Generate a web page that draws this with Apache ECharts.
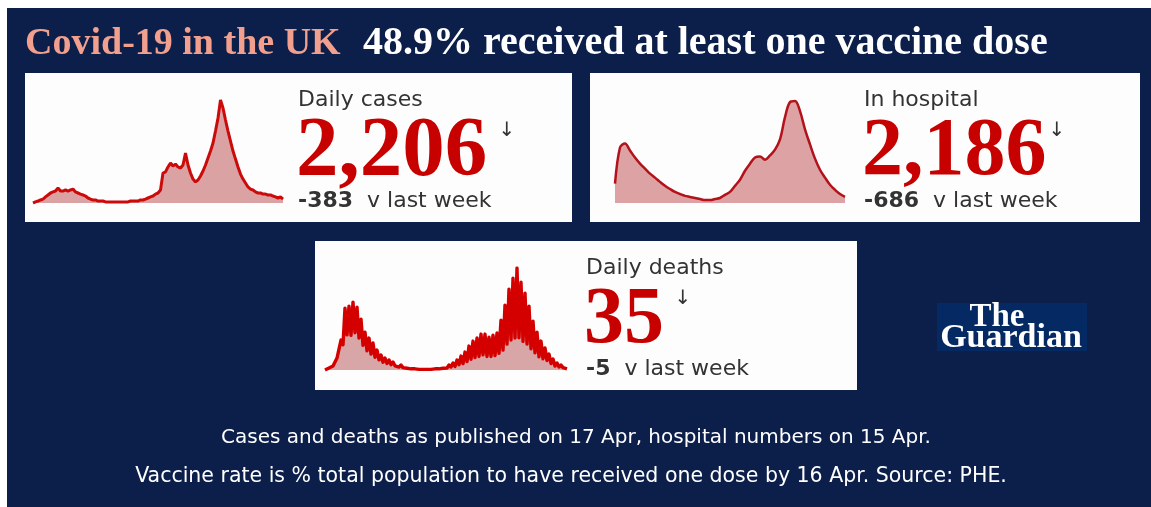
<!DOCTYPE html>
<html><head><meta charset="utf-8">
<script src="https://cdn.jsdelivr.net/npm/echarts@6/dist/echarts.min.js"></script>
<style>html,body{margin:0;padding:0;background:#fff}#c{width:1151px;height:507px}</style>
</head><body><div id="c"></div>
<script>
// ---- data ----
const casesValues = [
  0,700,1300,2000,2600,4000,5300,6600,7300,7900,
  9900,7900,7900,8600,7900,8600,9200,7300,6600,5900,
  5300,4600,3300,2600,2000,2000,1300,1300,1300,700,
  700,700,700,700,700,700,700,700,700,1300,
  1300,1300,1300,2000,2000,2600,3300,4000,4600,5900,
  6600,8600,19800,20500,23800,26400,24400,25700,23800,23100,
  25100,33000,25100,19800,15800,13900,15200,17800,21100,25100,
  29700,34300,39600,47500,56100,68000,62700,54800,47500,40900,
  34300,29000,23800,19100,15800,13200,10600,9200,8600,7300,
  6600,6600,5900,5900,5300,5300,4600,4000,3300,4000,2600
];
const hospitalValues = [
  7300,21000,22500,19900,17200,14900,13000,11100,9600,8000,
  6500,5300,4200,3400,2700,2300,1900,1500,1100,1100,
  1500,1900,3100,4200,6500,8800,12200,14900,17200,17600,
  16400,18000,20200,24100,32500,38200,38600,34800,27900,22200,
  16800,12600,9600,6900,5000,3400,2300
];
const deathsValues = [
  0,12,36,32,71,53,214,186,534,450,
  1104,627,1139,617,1210,666,1121,568,908,441,
  676,343,570,284,481,225,356,182,267,139,
  214,117,178,96,142,75,107,53,89,43,
  71,32,53,21,36,21,36,11,18,11,
  18,11,18,11,18,21,36,21,36,32,
  53,36,89,53,125,64,178,96,249,114,
  320,150,427,192,516,221,570,242,641,271,
  641,242,587,242,623,256,659,297,890,355,
  1157,461,1442,536,1638,570,1820,575,1566,511,
  1371,463,1139,379,872,306,676,235,516,200,
  392,169,285,116,196,71,125,53,89,43,
  53,21
];
const panelTitles = ['Daily cases', 'In hospital', 'Daily deaths'];
const headlineValues = ['2,206', '2,186', '35'];
const weekChanges = ['-383', '-686', '-5'];
const weekText = 'v last week';
const titleLeft = 'Covid-19 in the UK';
const titleRight = '48.9% received at least one vaccine dose';
const footnotes = [
  'Cases and deaths as published on 17 Apr, hospital numbers on 15 Apr.',
  'Vaccine rate is % total population to have received one dose by 16 Apr. Source: PHE.'
];

function idxLabels(n) { const a = []; for (let i = 0; i < n; i++) a.push(String(i)); return a; }
const casesCats = idxLabels(casesValues.length);
const hospitalCats = idxLabels(hospitalValues.length);
const deathsCats = idxLabels(deathsValues.length);

const chart = echarts.init(document.getElementById('c'), null, {renderer: 'canvas'});

const SERIF = '"Liberation Serif", "DejaVu Serif", serif';
const SANS = '"DejaVu Sans", "Noto Sans", sans-serif';
const RED = '#c70000';
const DARK = '#333333';

function xAx(i, cats) {
  return {gridIndex: i, type: 'category', data: cats, boundaryGap: false, show: false};
}
function yAx(i, max) {
  return {gridIndex: i, type: 'value', min: 0, max: max, show: false, splitLine: {show: false}};
}

const panels = [
  {x: 25, y: 73, w: 547, h: 149, tx: 298, ty: 73, arrowX: 507},
  {x: 590, y: 73, w: 550, h: 149, tx: 864, ty: 73, arrowX: 1057},
  {x: 315, y: 241, w: 542, h: 149, tx: 586, ty: 241, arrowX: 683}
];
const numSizes = [85, 82, 80];

const elements = [];
elements.push({type: 'rect', shape: {x: 7, y: 8, width: 1144, height: 499}, style: {fill: '#0c1f4b'}, z: -10});
panels.forEach((p, i) => {
  elements.push({type: 'rect', shape: {x: p.x, y: p.y, width: p.w, height: p.h}, style: {fill: '#fdfdfd'}, z: -5});
  elements.push({type: 'text', x: p.tx, y: p.ty + 27, z: 10,
    style: {text: panelTitles[i], font: '22px ' + SANS, fill: DARK, verticalAlign: 'middle', align: 'left'}});
  elements.push({type: 'text', x: p.tx - 2, y: p.ty + 80, z: 10,
    style: {text: headlineValues[i], font: 'bold ' + numSizes[i] + 'px ' + SERIF, fill: RED, verticalAlign: 'middle', align: 'left'}});
  elements.push({type: 'text', x: p.arrowX, y: p.ty + 58, z: 10,
    style: {text: '\u2193', font: '20px "DejaVu Sans", sans-serif', fill: DARK, verticalAlign: 'middle', align: 'center'}});
  elements.push({type: 'text', x: p.tx, y: p.ty + 128, z: 10,
    style: {text: '{b|' + weekChanges[i] + '}  ' + weekText, font: '22px ' + SANS, fill: DARK, verticalAlign: 'middle', align: 'left',
      rich: {b: {font: 'bold 22px ' + SANS, fill: DARK}}}});
});
// title
elements.push({type: 'text', x: 25, y: 44, z: 10,
  style: {text: titleLeft, font: 'bold 38px ' + SERIF, fill: '#f2a08d', verticalAlign: 'middle', align: 'left'}});
elements.push({type: 'text', x: 363, y: 44, z: 10,
  style: {text: titleRight, font: 'bold 40px ' + SERIF, fill: '#ffffff', verticalAlign: 'middle', align: 'left'}});
// footnotes
elements.push({type: 'text', x: 576, y: 438, z: 10,
  style: {text: footnotes[0], font: '20px ' + SANS, fill: '#ffffff', verticalAlign: 'middle', align: 'center'}});
elements.push({type: 'text', x: 571, y: 477, z: 10,
  style: {text: footnotes[1], font: '20.5px ' + SANS, fill: '#ffffff', verticalAlign: 'middle', align: 'center'}});
// logo
elements.push({type: 'rect', shape: {x: 937, y: 303, width: 150, height: 48}, style: {fill: '#052962'}, z: 5});
elements.push({type: 'text', x: 997, y: 317, z: 10,
  style: {text: 'The', font: 'bold 33px ' + SERIF, fill: '#ffffff', verticalAlign: 'middle', align: 'center'}});
elements.push({type: 'text', x: 1011, y: 338, z: 10,
  style: {text: 'Guardian', font: 'bold 34px ' + SERIF, fill: '#ffffff', verticalAlign: 'middle', align: 'center'}});

chart.setOption({
  animation: false,
  backgroundColor: '#ffffff',
  grid: [
    {left: 33, top: 100, width: 250, height: 103},
    {left: 615, top: 100, width: 230, height: 103},
    {left: 325, top: 268, width: 242, height: 102}
  ],
  xAxis: [xAx(0, casesCats), xAx(1, hospitalCats), xAx(2, deathsCats)],
  yAxis: [yAx(0, 68000), yAx(1, 39000), yAx(2, 1820)],
  series: [
    {type: 'line', xAxisIndex: 0, yAxisIndex: 0, data: casesValues, symbol: 'none',
      lineStyle: {color: '#cc0a0a', width: 3}, areaStyle: {color: '#dba2a4', opacity: 1}},
    {type: 'line', xAxisIndex: 1, yAxisIndex: 1, data: hospitalValues, symbol: 'none', smooth: 0.35,
      lineStyle: {color: '#b3121a', width: 2.5}, areaStyle: {color: '#dca2a4', opacity: 1}},
    {type: 'line', xAxisIndex: 2, yAxisIndex: 2, data: deathsValues, symbol: 'none',
      lineStyle: {color: '#d40000', width: 3.4, join: 'round'}, areaStyle: {color: '#d9a6a8', opacity: 1}}
  ],
  graphic: {elements: elements}
});
</script></body></html>
